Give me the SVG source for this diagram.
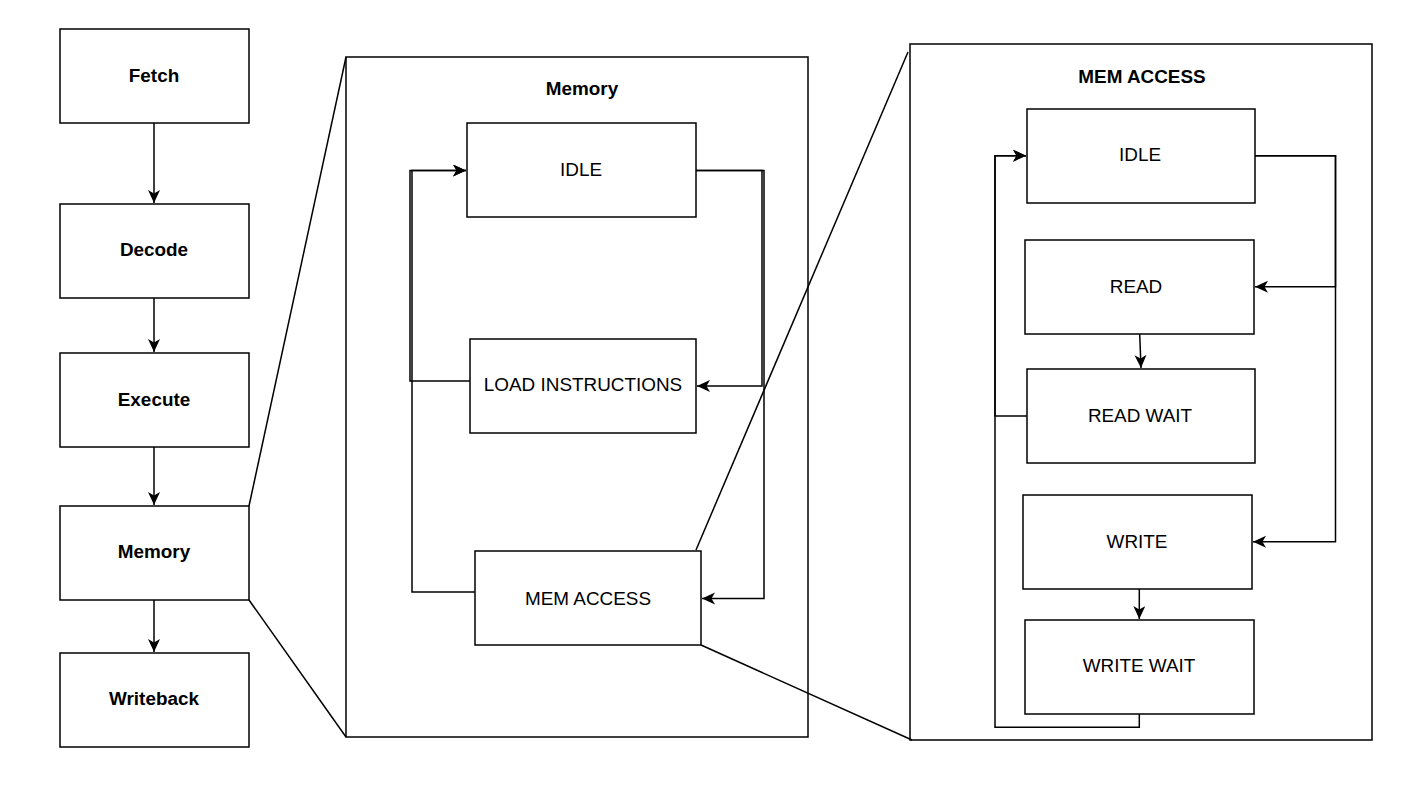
<svg xmlns="http://www.w3.org/2000/svg" width="1414" height="789" viewBox="0 0 1414 789">
<defs>
<style>
.box{fill:#fff;stroke:#000;stroke-width:1.5}
.frame{fill:none;stroke:#000;stroke-width:1.5}
.t{font-family:"Liberation Sans",Arial,sans-serif;font-size:18.9px;text-anchor:middle;fill:#000}
.b{font-weight:bold}
.c{fill:none;stroke:#000;stroke-width:1.5}
.a{marker-end:url(#arr)}
</style>
<marker id="arr" markerUnits="userSpaceOnUse" markerWidth="16" markerHeight="14" refX="13" refY="6" orient="auto">
<path d="M0,0 L13,6 L0,12 L3.5,6 Z" fill="#000"/>
</marker>
</defs>
<rect width="1414" height="789" fill="#fff"/>
<g id="connectors">
<path class="c a" d="M154,123 V203"/>
<path class="c a" d="M154,298 V352"/>
<path class="c a" d="M154,447 V505"/>
<path class="c a" d="M154,600 V652"/>
<path class="c" d="M249,506 L346,57"/>
<path class="c" d="M249,600 L346,737"/>
<path class="c" d="M696,550 L908,52"/>
<path class="c" d="M701,645 L912,740"/>
<path class="c a" d="M696,170.5 H762 V386 H697"/>
<path class="c a" d="M696,170.5 H764 V598.5 H702"/>
<path class="c a" d="M470,381 H410 V170.5 H466"/>
<path class="c a" d="M475,592 H412 V170.5 H466"/>
<path class="c a" d="M1255,155.7 H1335.5 V286.7 H1255"/>
<path class="c a" d="M1255,155.7 H1335.5 V541.7 H1253"/>
<path class="c a" d="M1139.7,334 L1141,368"/>
<path class="c a" d="M1139.3,589 V619"/>
<path class="c a" d="M1027,416 H995 V155.7 H1026"/>
<path class="c a" d="M1139.3,714 V727.3 H995 V155.7 H1026"/>
</g>
<g id="fetch"><rect class="box" x="60" y="29" width="189" height="94"/><text class="t b" x="154" y="81.5">Fetch</text></g>
<g id="decode"><rect class="box" x="60" y="204" width="189" height="94"/><text class="t b" x="154" y="255.5">Decode</text></g>
<g id="execute"><rect class="box" x="60" y="353" width="189" height="94"/><text class="t b" x="154" y="405.5">Execute</text></g>
<g id="memory"><rect class="box" x="60" y="506" width="189" height="94"/><text class="t b" x="154" y="557.5">Memory</text></g>
<g id="writeback"><rect class="box" x="60" y="653" width="189" height="94"/><text class="t b" x="154" y="704.5">Writeback</text></g>
<g id="memory-detail"><rect class="frame" x="346" y="57" width="462" height="680"/><text class="t b" x="582" y="94.5">Memory</text></g>
<g id="mem-idle"><rect class="box" x="467" y="123" width="229" height="94"/><text class="t" x="581" y="175.5">IDLE</text></g>
<g id="load-instructions"><rect class="box" x="470" y="339" width="226" height="94"/><text class="t" x="583" y="390.5">LOAD INSTRUCTIONS</text></g>
<g id="mem-access"><rect class="box" x="475" y="551" width="226" height="94"/><text class="t" x="588" y="604.5">MEM ACCESS</text></g>
<g id="mem-access-detail"><rect class="frame" x="910" y="44" width="462" height="696"/><text class="t b" x="1142" y="82.5">MEM ACCESS</text></g>
<g id="ma-idle"><rect class="box" x="1027" y="109" width="228" height="94"/><text class="t" x="1140" y="160.5">IDLE</text></g>
<g id="read"><rect class="box" x="1025" y="240" width="229" height="94"/><text class="t" x="1136" y="292.5">READ</text></g>
<g id="read-wait"><rect class="box" x="1027" y="369" width="228" height="94"/><text class="t" x="1140" y="421.5">READ WAIT</text></g>
<g id="write"><rect class="box" x="1023" y="495" width="229" height="94"/><text class="t" x="1137" y="547.5">WRITE</text></g>
<g id="write-wait"><rect class="box" x="1025" y="620" width="229" height="94"/><text class="t" x="1139" y="671.5">WRITE WAIT</text></g>
</svg>
